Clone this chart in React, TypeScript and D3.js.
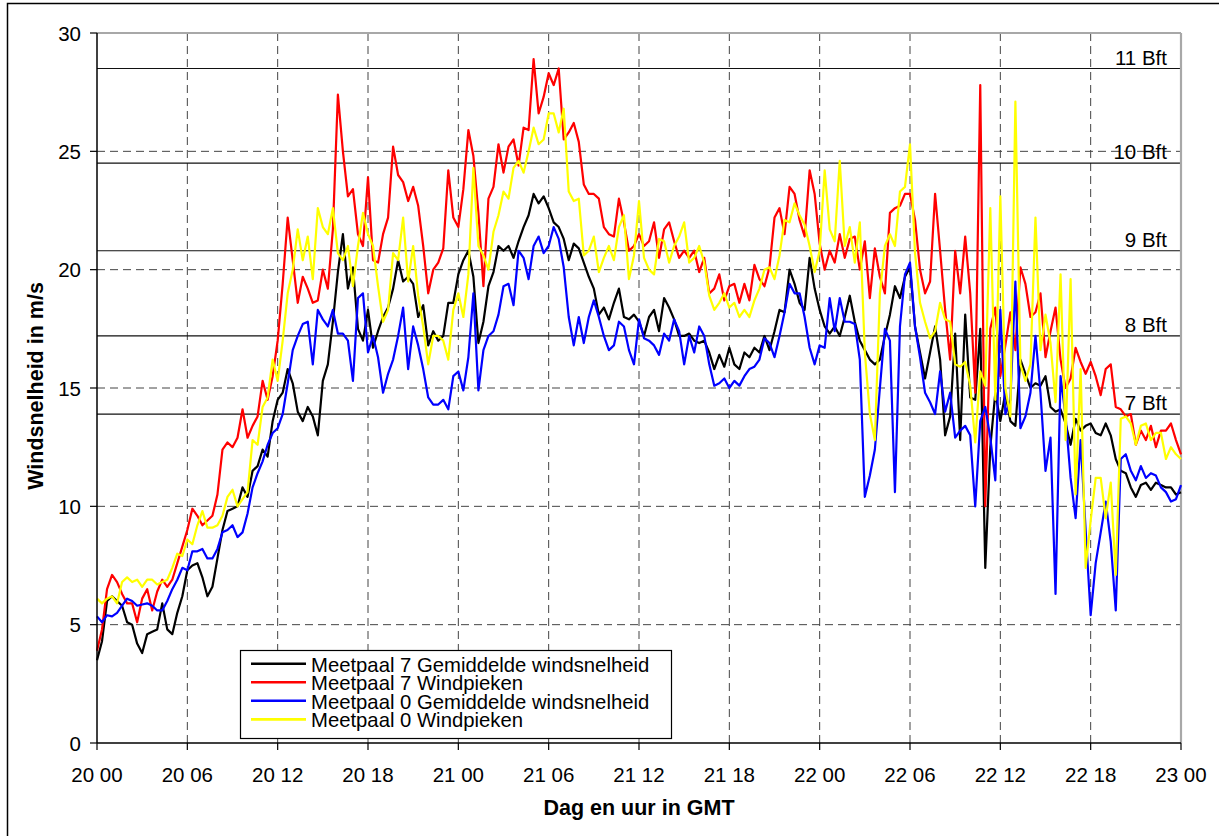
import React from 'react';
import * as d3 from 'd3';

// readings every 20 minutes, from 20 00 to 23 00 (hours since start)
const STEP_HOURS = 1 / 3;

const xTickHours = [0, 6, 12, 18, 24, 30, 36, 42, 48, 54, 60, 66, 72];
const xTickLabels = ['20 00', '20 06', '20 12', '20 18', '21 00', '21 06', '21 12', '21 18', '22 00', '22 06', '22 12', '22 18', '23 00'];
const yTicks = [0, 5, 10, 15, 20, 25, 30];

// Beaufort lower limits in m/s
const bftLimits = [13.9, 17.2, 20.8, 24.5, 28.5];
const bftLabels = ['7 Bft', '8 Bft', '9 Bft', '10 Bft', '11 Bft'];

// Meetpaal 7 Gemiddelde windsnelheid
const mp7Mean = [
  3.5, 4.3, 6.0, 6.2, 6.0, 5.8,
  5.1, 5.0, 4.2, 3.8, 4.6, 4.7,
  4.8, 5.9, 4.8, 4.6, 5.5, 6.2,
  7.3, 7.5, 7.6, 7.0, 6.2, 6.6,
  7.8, 9.0, 9.8, 9.9, 10.0, 10.8,
  10.4, 11.5, 11.7, 12.4, 12.1, 13.6,
  14.5, 14.8, 15.8, 15.2, 14.0, 13.6,
  14.2, 13.8, 13.0, 15.3, 16.0, 17.8,
  19.9, 21.5, 19.2, 20.1, 17.5, 17.0,
  18.3, 16.7, 17.4, 18.0, 18.4, 19.2,
  20.4, 19.5, 19.7, 19.4, 18.0, 18.5,
  16.8, 17.4, 17.0, 17.2, 18.6, 18.6,
  19.8, 20.4, 20.8, 19.7, 16.9, 17.8,
  19.3, 19.9, 21.0, 20.8, 21.0, 20.5,
  21.2, 21.8, 22.3, 23.2, 22.8, 23.1,
  22.6, 22.0, 21.8, 21.3, 20.4, 21.1,
  20.9, 20.3, 19.7, 19.2, 18.1, 18.4,
  17.9, 18.6, 19.2, 18.0, 17.9, 18.1,
  17.8, 17.2, 18.0, 18.3, 17.4, 18.8,
  18.4, 17.9, 17.2, 17.2, 17.3, 17.0,
  16.9, 17.0, 16.5, 15.8, 16.4, 15.9,
  16.7, 16.0, 15.8, 16.5, 16.3, 16.7,
  16.5, 17.2, 16.6, 17.4, 18.3, 18.2,
  20.0, 19.4, 18.6, 18.3, 20.5, 19.2,
  18.3, 17.6, 17.3, 17.6, 17.2, 18.0,
  18.9, 17.8, 17.0, 16.6, 16.2, 16.0,
  16.2, 17.2, 18.1, 19.3, 18.8, 19.7,
  20.1, 17.6, 16.5, 15.4, 16.5, 17.6,
  16.2, 13.0, 13.8, 17.3, 12.8, 18.1,
  14.6, 14.5, 17.5, 7.4, 12.5, 14.8,
  13.6, 14.8, 13.6, 13.4, 16.2, 15.6,
  15.0, 15.2, 15.1, 15.5, 14.2, 14.0,
  14.1, 13.5, 12.6, 13.7, 13.2, 13.4,
  13.5, 13.1, 13.0, 13.5, 13.0, 12.0,
  11.5, 11.4, 10.8, 10.4, 10.9, 11.0,
  10.7, 11.0, 10.9, 10.8, 10.8, 10.5,
  10.6,
];

// Meetpaal 7 Windpieken
const mp7Gust = [
  3.9, 4.8, 6.5, 7.1, 6.8, 6.3,
  5.9, 5.9, 5.1, 6.1, 6.5, 5.6,
  6.4, 6.9, 6.6, 6.9, 7.6, 8.3,
  9.0, 9.9, 9.6, 9.2, 9.4, 9.6,
  10.5, 12.4, 12.7, 12.5, 12.9, 14.1,
  12.9, 13.4, 13.8, 15.3, 14.5, 15.5,
  17.0, 19.4, 22.2, 20.4, 18.6, 19.7,
  19.2, 18.6, 18.7, 20.0, 19.2, 21.7,
  27.4, 25.0, 23.1, 23.4, 21.5, 21.0,
  23.9, 20.4, 20.3, 21.5, 22.2, 25.2,
  24.0, 23.7, 22.9, 23.5, 22.7, 21.0,
  19.0, 20.0, 20.3, 20.9, 24.2, 22.2,
  21.8, 23.4, 25.9, 24.8, 22.4, 19.3,
  23.0, 23.5, 25.3, 24.1, 25.2, 25.5,
  24.4, 26.0, 25.9, 28.9, 26.6, 27.3,
  28.3, 27.8, 28.5, 25.5, 25.8, 26.2,
  25.4, 23.6, 23.2, 23.2, 23.0, 21.8,
  21.5, 21.4, 23.0, 22.0, 20.8, 21.0,
  21.5, 21.0, 21.2, 22.0, 20.5, 21.7,
  22.0, 21.2, 20.5, 20.8, 20.5, 20.8,
  19.9, 20.5, 19.0, 19.2, 19.8, 18.7,
  19.3, 19.4, 18.6, 19.4, 18.7, 20.2,
  19.6, 19.3, 20.1, 22.2, 22.6, 21.5,
  23.5, 23.2, 22.1, 21.4, 24.2, 23.2,
  21.1, 20.0, 20.8, 20.3, 21.5, 20.5,
  21.3, 21.4, 20.0, 21.2, 18.8, 20.9,
  19.7, 19.0, 22.4, 22.6, 22.7, 23.2,
  23.2, 22.1, 20.0, 19.0, 19.5, 23.2,
  20.8, 18.3, 16.2, 20.8, 19.0, 21.4,
  19.0, 14.8, 27.8, 10.0, 17.5, 18.4,
  15.5, 16.8, 18.2, 16.6, 20.1, 19.4,
  18.0, 18.2, 19.0, 16.3, 17.4, 18.4,
  16.2, 15.0, 15.4, 16.7, 16.1, 15.6,
  16.1, 15.5, 14.7, 15.8, 16.0, 14.2,
  14.1, 13.8, 13.9, 12.6, 13.2, 12.8,
  13.4, 12.5, 13.2, 13.2, 13.5, 12.8,
  12.2,
];

// Meetpaal 0 Gemiddelde windsnelheid
const mp0Mean = [
  5.35, 5.1, 5.4, 5.35, 5.5, 5.8,
  6.1, 6.0, 5.8, 5.85, 5.9, 5.8,
  5.6, 5.6, 6.0, 6.5, 6.9, 7.4,
  7.3, 8.1, 8.1, 8.2, 7.8, 7.8,
  8.2, 8.9, 9.0, 9.2, 8.7, 8.9,
  9.7, 10.8, 11.4, 11.9, 12.6, 13.1,
  13.3, 13.9, 15.2, 16.6, 17.2, 17.7,
  17.8, 16.0, 18.3, 17.9, 17.6, 18.3,
  17.3, 17.3, 17.0, 15.3, 18.8, 19.0,
  16.5, 17.2, 16.3, 14.8, 15.6, 16.2,
  17.2, 18.4, 15.8, 17.6, 16.8, 15.8,
  14.6, 14.3, 14.3, 14.5, 14.1, 15.5,
  15.7, 14.9, 16.3, 19.0, 14.9, 16.6,
  17.2, 17.4, 18.1, 19.3, 19.4, 18.5,
  20.8, 20.5, 19.6, 21.0, 21.4, 20.7,
  21.0, 21.8, 21.3, 20.1, 18.0, 16.8,
  18.0, 16.9, 18.0, 18.7, 18.0, 17.2,
  16.6, 16.8, 17.8, 17.6, 16.6, 16.0,
  17.9, 17.1, 17.0, 16.8, 16.4, 17.3,
  17.0, 17.9, 17.4, 16.0, 17.2, 16.5,
  17.6, 17.2, 16.0, 15.1, 15.2, 15.4,
  15.0, 15.3, 15.1, 15.5, 15.8, 15.9,
  16.2, 17.1, 16.9, 16.3, 17.2, 18.2,
  19.4, 19.0, 19.0, 18.0, 16.7, 16.0,
  16.8, 16.7, 18.8, 17.4, 18.8, 17.8,
  17.8, 17.7, 16.2, 10.4, 11.3, 12.4,
  15.0, 17.5, 17.0, 10.6, 17.6, 19.8,
  20.3, 17.6, 16.3, 14.8, 14.4, 13.9,
  15.7, 14.0, 14.8, 12.9, 13.2, 13.4,
  13.0, 10.0, 13.6, 14.2, 12.9, 11.1,
  18.3, 13.9, 14.5, 19.5, 13.3, 13.8,
  14.8, 17.2, 14.8, 11.5, 12.9, 6.3,
  15.5, 13.8, 11.2, 9.5, 12.8, 9.0,
  5.4, 7.6, 8.9, 10.2, 8.5, 5.6,
  12.0, 12.2, 11.5, 11.1, 11.7, 11.2,
  11.4, 11.3, 10.8, 10.6, 10.2, 10.3,
  10.9,
];

// Meetpaal 0 Windpieken
const mp0Gust = [
  6.1, 5.9, 6.1, 6.2, 5.9, 6.8,
  7.0, 6.8, 6.9, 6.6, 6.9, 6.9,
  6.7, 6.8, 6.9, 7.4, 8.0, 7.9,
  8.6, 8.4, 9.2, 9.8, 9.1, 9.1,
  9.2, 9.6, 10.4, 10.7, 10.0, 10.3,
  10.6, 12.8, 12.6, 14.2, 14.6, 16.2,
  15.3, 17.0, 19.0, 20.0, 21.7, 20.4,
  21.4, 19.6, 22.6, 21.8, 21.5, 22.6,
  20.7, 20.4, 21.0, 19.3, 21.0, 22.4,
  21.5, 21.0, 19.3, 17.8, 18.3, 20.7,
  20.4, 22.2, 19.5, 21.0, 18.9, 17.6,
  16.0, 17.2, 17.2, 17.0, 16.2, 18.3,
  19.0, 18.0, 19.8, 24.3, 21.0, 20.6,
  20.0, 21.6, 22.3, 23.3, 23.0, 24.3,
  24.6, 24.1, 25.0, 26.0, 25.3, 25.5,
  26.6, 26.6, 25.8, 26.8, 23.3, 22.9,
  23.0, 20.6, 20.8, 21.4, 19.9, 20.5,
  21.0, 20.4, 21.8, 22.3, 19.6, 20.6,
  22.9, 20.5, 20.0, 19.8, 21.3, 21.2,
  20.3, 21.0, 21.4, 22.0, 20.3, 20.5,
  21.0, 20.3, 18.9, 18.3, 18.6, 19.0,
  18.4, 18.6, 18.0, 18.3, 18.0, 18.7,
  19.2, 20.0, 20.1, 19.6, 20.6, 22.1,
  22.0, 22.8, 22.3, 21.9, 21.0, 19.9,
  20.8, 24.2, 21.7, 21.2, 24.6, 21.0,
  21.8, 20.3, 22.0, 16.5, 13.9, 12.8,
  19.0, 21.0, 21.5, 21.0, 23.3, 23.5,
  25.3, 20.7, 18.6, 17.8, 17.1, 17.4,
  18.6, 17.9, 17.8, 16.0, 15.9, 16.1,
  15.1, 12.7, 15.7, 15.1, 22.6, 14.5,
  23.1, 15.0, 13.8, 27.1, 16.0, 15.3,
  16.0, 22.2, 16.6, 18.1, 16.9, 14.4,
  19.8, 12.8, 19.6, 10.5, 15.8, 7.4,
  9.4, 11.2, 11.2, 9.5, 11.0, 7.1,
  13.7, 13.8, 13.5, 12.6, 13.4, 13.5,
  12.8, 13.1, 13.1, 12.0, 12.5, 12.2,
  12.0,
];

const seriesNames = [
  'Meetpaal 7 Gemiddelde windsnelheid',
  'Meetpaal 7 Windpieken',
  'Meetpaal 0 Gemiddelde windsnelheid',
  'Meetpaal 0 Windpieken',
];
const seriesData = [mp7Mean, mp7Gust, mp0Mean, mp0Gust];
const seriesColors = ['#000000', '#ff0000', '#0000ff', '#ffff00'];

const W = 1219;
const H = 836;
const plot = { left: 97, right: 1181, top: 33, bottom: 743 };
const font = "'Liberation Sans', Arial, sans-serif";

export default function App() {
  const x = d3.scaleLinear().domain([0, 72]).range([plot.left, plot.right]);
  const y = d3.scaleLinear().domain([0, 30]).range([plot.bottom, plot.top]);

  const line = d3
    .line<number>()
    .x((_d, i) => x(i * STEP_HOURS))
    .y((d) => y(d));

  // legend rows sit as tight as in the original
  const legend = { x: 240.5, y: 650.5, w: 431, h: 88, row: 18.55, first: 663.7 };

  return (
    <svg
      width={W}
      height={H}
      style={{ position: 'absolute', left: 0, top: 0, background: '#fff' }}
      fontFamily={font}
    >
      <rect x={7.5} y={3.5} width={W} height={H} fill="#fff" stroke="#000" strokeWidth={1.5} />

      {/* dashed grid */}
      {yTicks.slice(1, -1).map((v) => (
        <line key={'gy' + v} x1={plot.left} x2={plot.right} y1={y(v)} y2={y(v)}
          stroke="#444" strokeWidth={1} strokeDasharray="8,5" />
      ))}
      {xTickHours.slice(1, -1).map((h) => (
        <line key={'gx' + h} x1={x(h)} x2={x(h)} y1={plot.top} y2={plot.bottom}
          stroke="#444" strokeWidth={1} strokeDasharray="8,5" />
      ))}

      {/* Beaufort limits */}
      {bftLimits.map((v, i) => (
        <g key={'bft' + i}>
          <line x1={plot.left} x2={plot.right} y1={y(v)} y2={y(v)} stroke="#111" strokeWidth={1.2} />
          <text x={1167} y={y(v) - 4} textAnchor="end" fontSize={20.5} fill="#000">
            {bftLabels[i]}
          </text>
        </g>
      ))}

      {/* plot frame top/right */}
      <line x1={plot.left} x2={plot.right} y1={plot.top} y2={plot.top} stroke="#a8a8a8" strokeWidth={2.2} />
      <line x1={plot.right} x2={plot.right} y1={plot.top} y2={plot.bottom} stroke="#a8a8a8" strokeWidth={2.2} />

      {/* series */}
      {seriesData.map((data, i) => (
        <path key={'s' + i} d={line(data) ?? ''} fill="none" stroke={seriesColors[i]}
          strokeWidth={2.2} strokeLinejoin="round" />
      ))}

      {/* axes */}
      <line x1={plot.left} x2={plot.left} y1={plot.top} y2={plot.bottom} stroke="#000" strokeWidth={1.5} />
      <line x1={plot.left} x2={plot.right} y1={plot.bottom} y2={plot.bottom} stroke="#000" strokeWidth={1.5} />
      {yTicks.map((v) => (
        <g key={'yt' + v}>
          <line x1={plot.left - 7} x2={plot.left} y1={y(v)} y2={y(v)} stroke="#000" strokeWidth={1.2} />
          <text x={81} y={y(v) + 7.5} textAnchor="end" fontSize={20.5}>{v}</text>
        </g>
      ))}
      {xTickHours.map((h, i) => (
        <g key={'xt' + h}>
          <line x1={x(h)} x2={x(h)} y1={plot.bottom} y2={plot.bottom + 7} stroke="#000" strokeWidth={1.2} />
          <text x={x(h)} y={782} textAnchor="middle" fontSize={20.5}>{xTickLabels[i]}</text>
        </g>
      ))}

      <text x={639} y={815} textAnchor="middle" fontSize={21.5} fontWeight="bold">Dag en uur in GMT</text>
      <text transform="translate(43,386) rotate(-90)" textAnchor="middle" fontSize={21.5} fontWeight="bold">
        Windsnelheid in m/s
      </text>

      {/* legend */}
      <rect x={legend.x} y={legend.y} width={legend.w} height={legend.h} fill="#fff" stroke="#000" strokeWidth={1.2} />
      {seriesNames.map((name, i) => {
        const cy = legend.first + i * legend.row;
        return (
          <g key={'lg' + i}>
            <line x1={251} x2={306} y1={cy} y2={cy} stroke={seriesColors[i]} strokeWidth={2.6} />
            <text x={311} y={cy + 8} fontSize={20.3}>{name}</text>
          </g>
        );
      })}
    </svg>
  );
}
